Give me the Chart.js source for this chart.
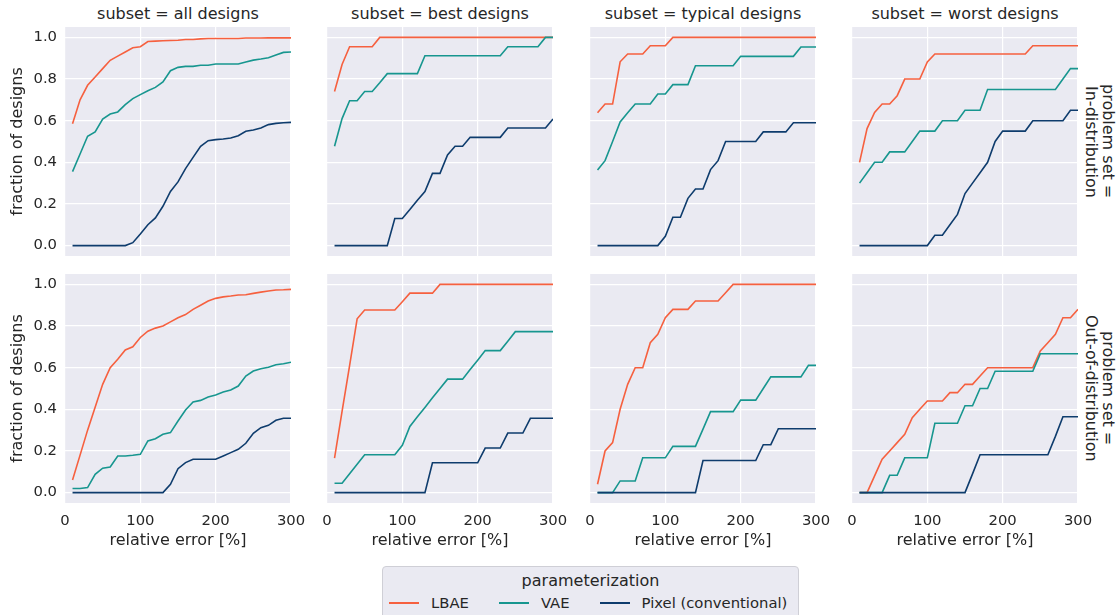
<!DOCTYPE html>
<html>
<head>
<meta charset="utf-8">
<script src="https://cdn.jsdelivr.net/npm/chart.js@4.4.0/dist/chart.umd.min.js"></script>
<style>
  body { margin: 0; width: 1119px; height: 615px; background: #fff; position: relative; overflow: hidden;
         font-family: 'DejaVu Sans', sans-serif; color: #262626; }
  canvas { position: absolute; }
  .coltitle { position: absolute; top: 4px; width: 226px; text-align: center; font-size: 16px; line-height: 20px; white-space: nowrap; }
  .rowlabel { position: absolute; writing-mode: vertical-rl; font-size: 16px; line-height: 17px; text-align: center;
              height: 229px; width: 34px; left: 1083px; white-space: nowrap; }
  .legend { position: absolute; left: 382px; top: 566px; width: 415px; height: 60px; background: #eaeaf2;
            border: 1px solid #cfcfd6; border-radius: 4px; }
  .legend .ltitle { position: absolute; top: 4px; left: 0; width: 100%; text-align: center; font-size: 16px; line-height: 20px; }
  .legend .items { position: absolute; top: 27px; left: 6px; display: flex; align-items: center; font-size: 14.8px;
                   line-height: 18px; white-space: nowrap; width: 420px; }
  .legend .sw { flex: none; width: 30px; height: 2px; margin-right: 12px; }
  .legend .lab { flex: none; margin-right: 30px; }
</style>
</head>
<body>
<script>
// x positions (relative error in %)
const relErr = [10, 20, 30, 40, 50, 60, 70, 80, 90, 100, 110, 120, 130, 140, 150, 160, 170, 180, 190, 200, 210, 220, 230, 240, 250, 260, 270, 280, 290, 300];
const xTicks = [0, 100, 200, 300];
const yTicks = [0, 0.2, 0.4, 0.6, 0.8, 1.0];

const subsets = ['all designs', 'best designs', 'typical designs', 'worst designs'];
const problemSets = ['In-distribution', 'Out-of-distribution'];
const seriesNames = ['LBAE', 'VAE', 'Pixel (conventional)'];
const seriesColors = ['#f6603f', '#17968f', '#0e3c6d'];

// problem set = In-distribution
const lbaeInAll = [0.585, 0.70, 0.77, 0.81, 0.85, 0.89, 0.91, 0.93, 0.95, 0.955, 0.98, 0.982, 0.984, 0.985, 0.986, 0.99, 0.99, 0.993, 0.995, 0.995, 0.995, 0.995, 0.995, 0.997, 0.997, 0.997, 0.998, 0.998, 0.998, 0.998];
const vaeInAll = [0.355, 0.44, 0.525, 0.546, 0.608, 0.632, 0.642, 0.677, 0.706, 0.725, 0.744, 0.76, 0.786, 0.84, 0.856, 0.861, 0.861, 0.866, 0.866, 0.872, 0.872, 0.872, 0.872, 0.882, 0.891, 0.896, 0.902, 0.915, 0.928, 0.93];
const pixelInAll = [0, 0, 0, 0, 0, 0, 0, 0, 0.014, 0.056, 0.10, 0.133, 0.189, 0.26, 0.306, 0.37, 0.424, 0.477, 0.504, 0.509, 0.512, 0.517, 0.528, 0.549, 0.555, 0.565, 0.581, 0.587, 0.59, 0.592];

const lbaeInBest = [0.74, 0.87, 0.955, 0.955, 0.955, 0.955, 1, 1, 1, 1, 1, 1, 1, 1, 1, 1, 1, 1, 1, 1, 1, 1, 1, 1, 1, 1, 1, 1, 1, 1];
const vaeInBest = [0.477, 0.61, 0.696, 0.696, 0.74, 0.74, 0.782, 0.826, 0.826, 0.826, 0.826, 0.826, 0.912, 0.912, 0.912, 0.912, 0.912, 0.912, 0.912, 0.912, 0.912, 0.912, 0.912, 0.955, 0.955, 0.955, 0.955, 0.955, 1, 1];
const pixelInBest = [0, 0, 0, 0, 0, 0, 0, 0, 0.13, 0.13, 0.173, 0.218, 0.26, 0.347, 0.347, 0.435, 0.477, 0.477, 0.52, 0.52, 0.52, 0.52, 0.52, 0.565, 0.565, 0.565, 0.565, 0.565, 0.565, 0.608];

const lbaeInTyp = [0.638, 0.68, 0.68, 0.883, 0.92, 0.92, 0.92, 0.96, 0.96, 0.96, 1, 1, 1, 1, 1, 1, 1, 1, 1, 1, 1, 1, 1, 1, 1, 1, 1, 1, 1, 1];
const vaeInTyp = [0.363, 0.408, 0.50, 0.594, 0.638, 0.68, 0.68, 0.68, 0.728, 0.728, 0.773, 0.773, 0.773, 0.864, 0.864, 0.864, 0.864, 0.864, 0.864, 0.909, 0.909, 0.909, 0.909, 0.909, 0.909, 0.909, 0.909, 0.954, 0.954, 0.954];
const pixelInTyp = [0, 0, 0, 0, 0, 0, 0, 0, 0, 0.045, 0.136, 0.136, 0.227, 0.272, 0.272, 0.365, 0.408, 0.50, 0.50, 0.50, 0.50, 0.50, 0.546, 0.546, 0.546, 0.546, 0.59, 0.59, 0.59, 0.59];

const lbaeInWorst = [0.40, 0.562, 0.64, 0.68, 0.68, 0.72, 0.80, 0.80, 0.80, 0.882, 0.92, 0.92, 0.92, 0.92, 0.92, 0.92, 0.92, 0.92, 0.92, 0.92, 0.92, 0.92, 0.92, 0.96, 0.96, 0.96, 0.96, 0.96, 0.96, 0.96];
const vaeInWorst = [0.30, 0.35, 0.40, 0.40, 0.45, 0.45, 0.45, 0.50, 0.55, 0.55, 0.55, 0.60, 0.60, 0.60, 0.65, 0.65, 0.65, 0.75, 0.75, 0.75, 0.75, 0.75, 0.75, 0.75, 0.75, 0.75, 0.75, 0.80, 0.85, 0.85];
const pixelInWorst = [0, 0, 0, 0, 0, 0, 0, 0, 0, 0, 0.05, 0.05, 0.10, 0.15, 0.25, 0.30, 0.35, 0.40, 0.50, 0.55, 0.55, 0.55, 0.55, 0.60, 0.60, 0.60, 0.60, 0.60, 0.65, 0.65];

// problem set = Out-of-distribution
const lbaeOodAll = [0.06, 0.18, 0.30, 0.41, 0.52, 0.60, 0.64, 0.685, 0.70, 0.745, 0.775, 0.79, 0.80, 0.82, 0.84, 0.855, 0.88, 0.90, 0.92, 0.933, 0.94, 0.944, 0.949, 0.95, 0.957, 0.963, 0.968, 0.973, 0.974, 0.976];
const vaeOodAll = [0.02, 0.02, 0.024, 0.088, 0.117, 0.123, 0.176, 0.176, 0.179, 0.184, 0.248, 0.259, 0.28, 0.288, 0.344, 0.397, 0.435, 0.443, 0.459, 0.469, 0.483, 0.493, 0.512, 0.56, 0.584, 0.595, 0.602, 0.614, 0.619, 0.626];
const pixelOodAll = [0, 0, 0, 0, 0, 0, 0, 0, 0, 0, 0, 0, 0, 0.04, 0.115, 0.144, 0.16, 0.16, 0.16, 0.16, 0.176, 0.192, 0.208, 0.237, 0.285, 0.312, 0.323, 0.347, 0.357, 0.357];

const lbaeOodBest = [0.165, 0.39, 0.61, 0.835, 0.877, 0.877, 0.877, 0.877, 0.877, 0.917, 0.958, 0.958, 0.958, 0.958, 1, 1, 1, 1, 1, 1, 1, 1, 1, 1, 1, 1, 1, 1, 1, 1];
const vaeOodBest = [0.045, 0.045, 0.091, 0.136, 0.182, 0.182, 0.182, 0.182, 0.182, 0.227, 0.318, 0.364, 0.409, 0.455, 0.5, 0.545, 0.545, 0.545, 0.591, 0.636, 0.682, 0.682, 0.682, 0.727, 0.773, 0.773, 0.773, 0.773, 0.773, 0.773];
const pixelOodBest = [0, 0, 0, 0, 0, 0, 0, 0, 0, 0, 0, 0, 0, 0.143, 0.143, 0.143, 0.143, 0.143, 0.143, 0.143, 0.214, 0.214, 0.214, 0.286, 0.286, 0.286, 0.357, 0.357, 0.357, 0.357];

const lbaeOodTyp = [0.04, 0.20, 0.24, 0.40, 0.52, 0.60, 0.60, 0.72, 0.76, 0.84, 0.88, 0.88, 0.88, 0.92, 0.92, 0.92, 0.92, 0.96, 1, 1, 1, 1, 1, 1, 1, 1, 1, 1, 1, 1];
const vaeOodTyp = [0, 0, 0, 0.056, 0.056, 0.056, 0.167, 0.167, 0.167, 0.167, 0.222, 0.222, 0.222, 0.222, 0.305, 0.389, 0.389, 0.389, 0.389, 0.444, 0.444, 0.444, 0.5, 0.556, 0.556, 0.556, 0.556, 0.556, 0.611, 0.611];
const pixelOodTyp = [0, 0, 0, 0, 0, 0, 0, 0, 0, 0, 0, 0, 0, 0, 0.154, 0.154, 0.154, 0.154, 0.154, 0.154, 0.154, 0.154, 0.23, 0.23, 0.307, 0.307, 0.307, 0.307, 0.307, 0.307];

const lbaeOodWorst = [0, 0, 0.08, 0.16, 0.2, 0.24, 0.28, 0.36, 0.40, 0.44, 0.44, 0.44, 0.48, 0.48, 0.52, 0.52, 0.56, 0.60, 0.60, 0.60, 0.60, 0.60, 0.60, 0.60, 0.68, 0.72, 0.76, 0.84, 0.84, 0.88];
const vaeOodWorst = [0, 0, 0, 0, 0.083, 0.083, 0.167, 0.167, 0.167, 0.167, 0.333, 0.333, 0.333, 0.333, 0.417, 0.417, 0.5, 0.5, 0.583, 0.583, 0.583, 0.583, 0.583, 0.583, 0.667, 0.667, 0.667, 0.667, 0.667, 0.667];
const pixelOodWorst = [0, 0, 0, 0, 0, 0, 0, 0, 0, 0, 0, 0, 0, 0, 0, 0.09, 0.182, 0.182, 0.182, 0.182, 0.182, 0.182, 0.182, 0.182, 0.182, 0.182, 0.27, 0.364, 0.364, 0.364];

const grid = [
    [[lbaeInAll, vaeInAll, pixelInAll], [lbaeInBest, vaeInBest, pixelInBest], [lbaeInTyp, vaeInTyp, pixelInTyp], [lbaeInWorst, vaeInWorst, pixelInWorst]],
    [[lbaeOodAll, vaeOodAll, pixelOodAll], [lbaeOodBest, vaeOodBest, pixelOodBest], [lbaeOodTyp, vaeOodTyp, pixelOodTyp], [lbaeOodWorst, vaeOodWorst, pixelOodWorst]]
];

// panel geometry
const colLeft = [65, 327, 590, 852];
const rowTop = [27, 274];
const plotW = 226, plotH = 229;
const leftPad = 65, bottomPad = 55, sidePad = 20;

Chart.defaults.font.family = "'DejaVu Sans', sans-serif";
Chart.defaults.color = '#262626';

// fond gris seaborn
const panelBg = {
    id: 'panelBg',
    beforeDraw(chart) {
        const { ctx, chartArea: a } = chart;
        ctx.save();
        ctx.fillStyle = '#eaeaf2';
        ctx.fillRect(a.left, a.top, a.width, a.height);
        ctx.restore();
    }
};

function gerarPainel(r, c) {
    const series = grid[r][c];
    const withY = c === 0;
    const withX = r === 1;
    // espaco extra dos lados para os rotulos 0 e 300
    const padL = withY ? 0 : (withX ? sidePad : 0);
    const padR = withX ? sidePad : 0;
    const extraL = withY ? leftPad : padL;

    const canvas = document.createElement('canvas');
    canvas.width = plotW + extraL + padR;
    canvas.height = plotH + (withX ? bottomPad : 0);
    canvas.style.left = (colLeft[c] - extraL) + 'px';
    canvas.style.top = rowTop[r] + 'px';
    document.body.appendChild(canvas);

    new Chart(canvas, {
        type: 'line',
        data: {
            datasets: seriesNames.map((name, i) => ({
                label: name,
                data: relErr.map((x, k) => ({ x: x, y: series[i][k] })),
                borderColor: seriesColors[i],
                borderWidth: 1.6,
                pointRadius: 0,
                tension: 0,
                fill: false,
                order: 3 - i
            }))
        },
        options: {
            responsive: false,
            animation: false,
            devicePixelRatio: 1,
            events: [],
            layout: { padding: { left: padL, right: padR, top: 0, bottom: 0 } },
            plugins: { legend: { display: false }, tooltip: { enabled: false } },
            scales: {
                x: {
                    type: 'linear', min: 0, max: 300,
                    border: { display: false },
                    grid: { color: '#ffffff', lineWidth: 1.2, drawTicks: false },
                    ticks: { display: withX, autoSkip: false, padding: 9, font: { size: 14.8 }, color: '#262626',
                             callback: v => String(v) },
                    title: { display: withX, text: 'relative error [%]', font: { size: 16 }, color: '#262626',
                             padding: { top: 0, bottom: 8 } },
                    afterBuildTicks: s => { s.ticks = xTicks.map(v => ({ value: v })); },
                    afterFit: s => { s.height = withX ? bottomPad : 0; s.paddingLeft = 0; s.paddingRight = 0; }
                },
                y: {
                    type: 'linear', min: -0.05, max: 1.05,
                    border: { display: false },
                    grid: { color: '#ffffff', lineWidth: 1.2, drawTicks: false },
                    ticks: { display: withY, autoSkip: false, padding: 8, font: { size: 14.8 }, color: '#262626',
                             callback: v => v.toFixed(1) },
                    title: { display: withY, text: 'fraction of designs', font: { size: 16 }, color: '#262626',
                             padding: { top: 8, bottom: 0 } },
                    afterBuildTicks: s => { s.ticks = yTicks.map(v => ({ value: v })); },
                    afterFit: s => { s.width = withY ? leftPad : 0; s.paddingTop = 0; s.paddingBottom = 0; }
                }
            }
        },
        plugins: [panelBg]
    });
}

// titres des colonnes
subsets.forEach((s, c) => {
    const d = document.createElement('div');
    d.className = 'coltitle';
    d.style.left = colLeft[c] + 'px';
    d.textContent = 'subset = ' + s;
    document.body.appendChild(d);
});

// etiquettes des lignes (a droite)
problemSets.forEach((p, r) => {
    const d = document.createElement('div');
    d.className = 'rowlabel';
    d.style.top = rowTop[r] + 'px';
    d.innerHTML = 'problem set =<br>' + p;
    document.body.appendChild(d);
});

for (let r = 0; r < 2; r++) {
    for (let c = 0; c < 4; c++) {
        gerarPainel(r, c);
    }
}

// legenda
const leg = document.createElement('div');
leg.className = 'legend';
leg.innerHTML = '<div class="ltitle">parameterization</div><div class="items">' +
    seriesNames.map((n, i) => `<span class="sw" style="background:${seriesColors[i]}"></span><span class="lab">${n}</span>`).join('') +
    '</div>';
document.body.appendChild(leg);
</script>
</body>
</html>
